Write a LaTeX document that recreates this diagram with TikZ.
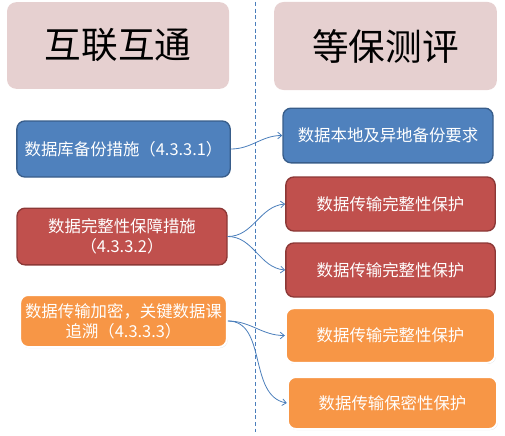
\documentclass[tikz,border=0pt]{standalone}
\usepackage{fontspec}
\setmainfont{Noto Sans CJK SC}
\usepackage{xcolor}
\usepackage{tikz}
\usetikzlibrary{arrows.meta,positioning,shadows}
\definecolor{HeadBg}{HTML}{E6D0D0}
\definecolor{AccBlue}{HTML}{4F81BD}
\definecolor{AccBlueD}{HTML}{385D8A}
\definecolor{AccRed}{HTML}{C0504D}
\definecolor{AccRedD}{HTML}{8C3836}
\definecolor{AccOrange}{HTML}{F79646}
\definecolor{LinkBlue}{HTML}{4A7EBB}

\begin{document}
\begin{tikzpicture}[x=0.75pt,y=-0.75pt,
  head/.style={rounded corners=7pt,fill=HeadBg,minimum width=166.5pt,minimum height=65pt,font=\fontsize{27.5}{30}\selectfont},
  box/.style={rounded corners=6pt,text=white,align=center,inner sep=2pt,line width=1pt,minimum width=157pt,minimum height=41pt,font=\fontsize{12.3}{15}\selectfont},
  bluebox/.style={box,fill=AccBlue,draw=AccBlueD},
  redbox/.style={box,fill=AccRed,draw=AccRedD},
  orangebox/.style={box,fill=AccOrange,draw=white,line width=1.5pt,drop shadow={shadow xshift=0.6pt,shadow yshift=-0.8pt,opacity=.25}},
  link/.style={-{Straight Barb[length=3pt,width=5pt]},LinkBlue,line width=.6pt}]
\useasboundingbox (0,0) rectangle (505,435);
% headers
\node[head] (hdL) at (118,45.5) {互联互通};
\node[head,minimum width=167pt,minimum height=66pt] (hdR) at (385.5,46) {等保测评};
\draw[LinkBlue,dashed,dash pattern=on 3pt off 2pt,line width=.6pt] (255,2) -- (255,432);
% left side
\node[bluebox,minimum width=160pt,minimum height=42pt] (lA) at (123.5,149) {数据库备份措施（4.3.3.1）};
\node[redbox,text width=150pt,minimum width=157.5pt,minimum height=42.5pt] (lB) at (122,236.5) {数据完整性保障措施\\（4.3.3.2）};
\node[orangebox,text width=150pt,minimum width=155pt,minimum height=39pt] (lC) at (123.5,321) {数据传输加密，关键数据课\\追溯（4.3.3.3）};
% right side
\node[bluebox,minimum width=157.5pt] (rA) at (388,135.5) {数据本地及异地备份要求};
\node[redbox,minimum height=40.5pt] (rB) at (390.5,204) {数据传输完整性保护};
\node[redbox,minimum height=40.5pt] (rC) at (390.5,270) {数据传输完整性保护};
\node[orangebox] (rD) at (390.5,335.5) {数据传输完整性保护};
\node[orangebox,minimum height=39pt] (rE) at (392.5,403) {数据传输保密性保护};
% links
\draw[link] (lA.east) to[out=0,in=180] (rA.west);
\draw[link] (lB.east) to[out=0,in=185] (rB.west);
\draw[link] (lB.east) to[out=0,in=175] (rC.west);
\draw[link] (lC.east) to[out=0,in=180] (rD.west);
\draw[link] (lC.east) to[out=0,in=170] (rE.west);
\end{tikzpicture}
\end{document}
